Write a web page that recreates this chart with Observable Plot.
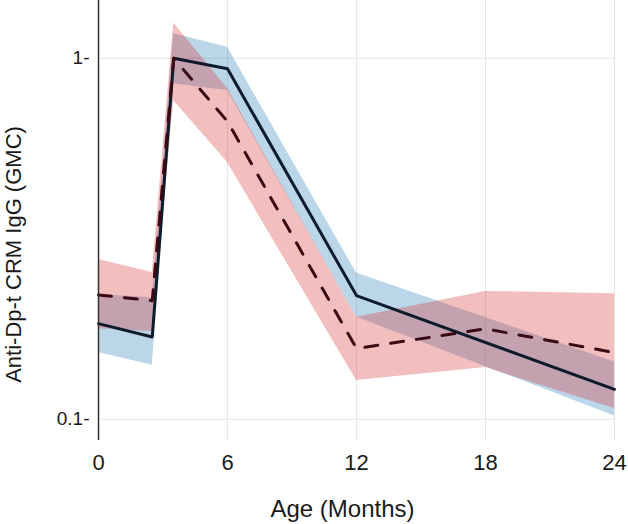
<!DOCTYPE html>
<html>
<head>
<meta charset="utf-8">
<script src="https://cdn.jsdelivr.net/npm/d3@7"></script>
<script src="https://cdn.jsdelivr.net/npm/@observablehq/plot@0.6"></script>
<style>
  html, body { margin: 0; padding: 0; background: #ffffff; }
  #chart svg { display: block; }
</style>
</head>
<body>
<div id="chart"></div>
<script>
// Solid series (blue CI band)
const monthsSolid = [0, 2.5, 3.5, 6, 12, 24];
const gmcSolid    = [0.184, 0.169, 1.0, 0.935, 0.220, 0.121];
const loSolid     = [0.153, 0.141, 0.849, 0.814, 0.192, 0.102];
const hiSolid     = [0.2215, 0.217, 1.169, 1.073, 0.254, 0.144];

// Dashed series (red CI band)
const monthsDashed = [0, 2.5, 3.5, 6, 12, 18, 24];
const gmcDashed    = [0.221, 0.213, 1.0, 0.668, 0.157, 0.178, 0.153];
const loDashed     = [0.178, 0.175, 0.763, 0.514, 0.128, 0.139, 0.107];
const hiDashed     = [0.277, 0.255, 1.253, 0.824, 0.1916, 0.226, 0.2226];

const xTicks = [0, 6, 12, 18, 24];
const yTicks = [0.1, 1];
const xTitle = "Age (Months)";
const yTitle = "Anti-Dp-t CRM IgG (GMC)";

const solid = monthsSolid.map((m, i) => ({m, v: gmcSolid[i], lo: loSolid[i], hi: hiSolid[i]}));
const dashed = monthsDashed.map((m, i) => ({m, v: gmcDashed[i], lo: loDashed[i], hi: hiDashed[i]}));

const chart = Plot.plot({
  width: 628,
  height: 524,
  marginLeft: 98,
  marginRight: 14,
  marginTop: 0,
  marginBottom: 84,
  style: {fontFamily: "'Liberation Sans', Arial, sans-serif", background: "#ffffff", color: "#1a1a1a"},
  x: {domain: [0, 24]},
  y: {type: "log", domain: [0.0873, 1.4456]},
  marks: [
    Plot.gridX([6, 12, 18, 24], {stroke: "#e6e6e6", strokeOpacity: 1, strokeWidth: 1}),
    Plot.gridY(yTicks, {stroke: "#e6e6e6", strokeOpacity: 1, strokeWidth: 1}),
    Plot.areaY(solid, {x: "m", y1: "lo", y2: "hi", fill: "#1f77b4", fillOpacity: 0.3}),
    Plot.areaY(dashed, {x: "m", y1: "lo", y2: "hi", fill: "#d62728", fillOpacity: 0.3}),
    Plot.line(solid, {x: "m", y: "v", stroke: "#0d1b2a", strokeWidth: 3}),
    Plot.line(dashed, {x: "m", y: "v", stroke: "#3a0a14", strokeWidth: 3, strokeDasharray: "13,13"}),
    Plot.ruleX([0], {stroke: "#333333", strokeWidth: 1.5}),
    Plot.axisX(xTicks, {tickSize: 0, tickPadding: 14, fontSize: 22, label: null}),
    Plot.axisY(yTicks, {tickSize: 0, tickPadding: 9, fontSize: 19, label: null, tickFormat: d => `${d}-`}),
    Plot.text([xTitle], {frameAnchor: "bottom", dx: -14, dy: 69, fontSize: 24, lineAnchor: "middle"}),
    Plot.text([yTitle], {x: () => -3.95, y: () => 0.286, rotate: -90, fontSize: 22, lineAnchor: "middle", textAnchor: "middle"})
  ]
});

document.getElementById("chart").appendChild(chart);
</script>
</body>
</html>
